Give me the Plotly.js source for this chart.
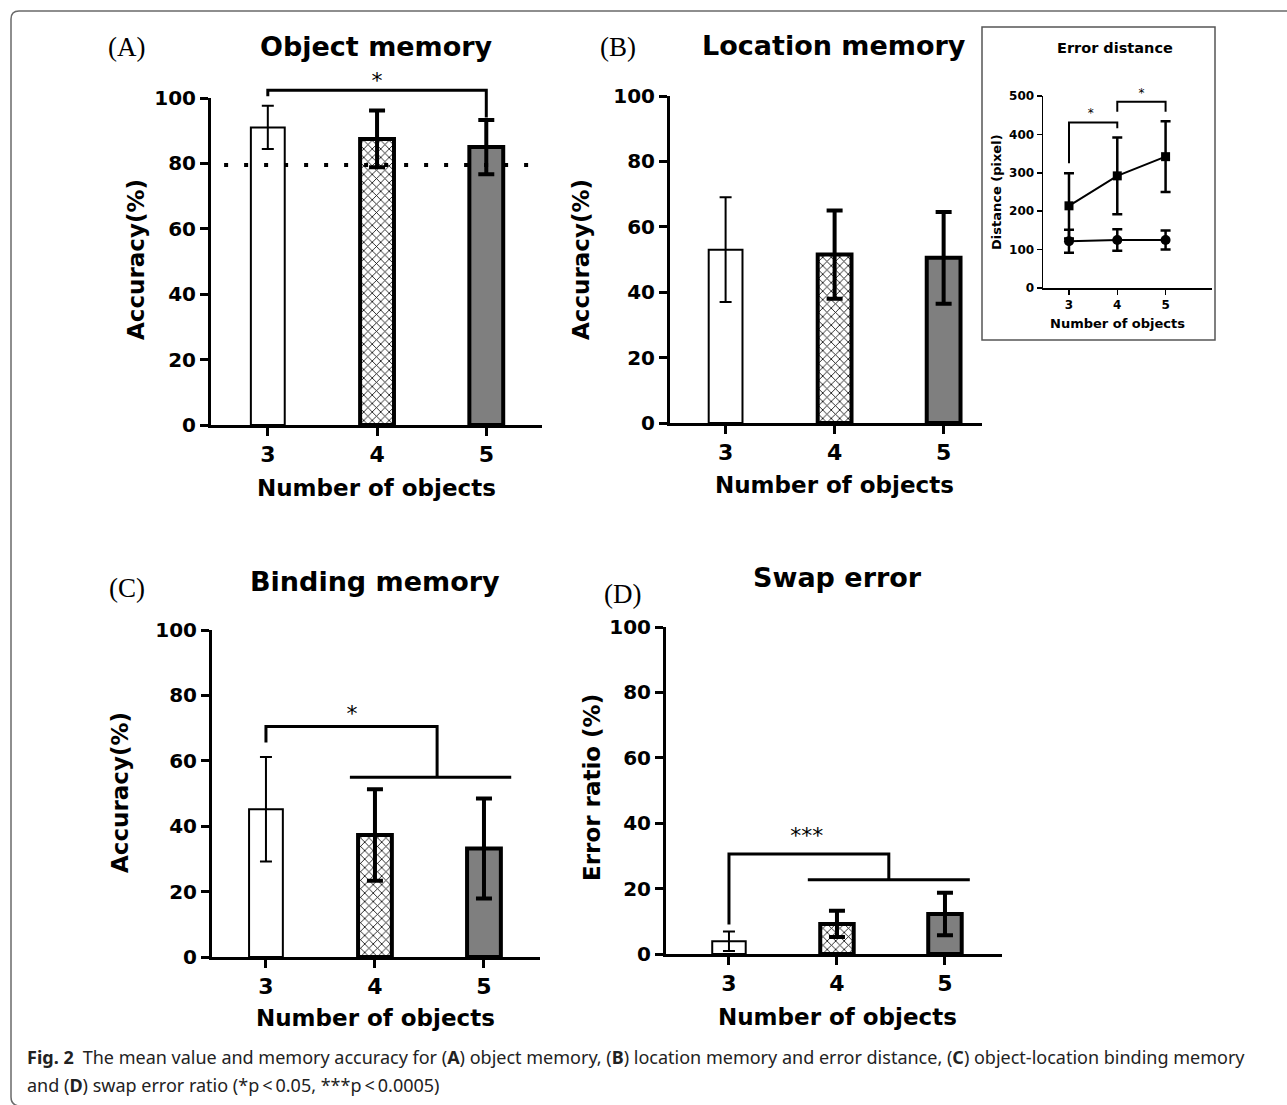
<!DOCTYPE html>
<html>
<head>
<meta charset="utf-8">
<script src="https://cdn.plot.ly/plotly-3.0.1.min.js"></script>
<style>html,body{margin:0;padding:0;background:#fff;}#chart{width:1287px;height:1105px;}</style>
</head>
<body>
<div id="chart"></div>
<script>
// ---------------- DATA ----------------
const categories = [3, 4, 5];
const tickLabels = ['3', '4', '5'];
const yTicks = [0, 20, 40, 60, 80, 100];
const yTickLabels = ['0', '20', '40', '60', '80', '100'];

const objectMean = [91, 87.5, 85];
const objectErr = [6.6, 8.7, 8.3];
const objectCriterion = 79.5;

const locationMean = [53, 51.5, 50.5];
const locationErr = [16, 13.5, 14];

const bindingMean = [45.2, 37.3, 33.2];
const bindingErr = [16, 14, 15.3];

const swapMean = [3.9, 9.2, 12.2];
const swapErr = [3, 4, 6.5];

const distTicks = [0, 100, 200, 300, 400, 500];
const distSquareMean = [214, 292, 342];
const distSquareErr = [85, 100, 92];
const distCircleMean = [122, 125, 125];
const distCircleErr = [30, 28, 25];

// significance brackets (x in category units, y in data units)
const sigA_x = [3, 3, 5, 5];
const sigA_y = [100.5, 102.4, 102.4, 94];
const starA = {x: [4], y: [104.8], t: ['*']};

const sigC_x = [3, 3, 4.57, 4.57, null, 3.77, 5.25];
const sigC_y = [65.6, 70.5, 70.5, 55, null, 55, 55];
const starC = {x: [3.79], y: [74], t: ['*']};

const sigD_x = [3, 3, 4.48, 4.48, null, 3.73, 5.23];
const sigD_y = [9, 30.6, 30.6, 22.7, null, 22.7, 22.7];
const starD = {x: [3.72], y: [35.5], t: ['***']};

const sigE1_x = [3, 3, 4, 4];
const sigE1_y = [325, 431, 431, 416];
const sigE2_x = [4, 4, 5, 5];
const sigE2_y = [459, 485, 485, 459];
const starE = {x: [3.45, 4.5], y: [452, 506], t: ['*', '*']};

// ---------------- LAYOUT HELPERS ----------------
const W = 1287, H = 1105;
const px = p => p / W;
const py = p => 1 - p / H;
const FONT = 'DejaVu Sans';
const black = '#000';

function xAxis(d, r, anchor, opts) {
  return Object.assign({
    domain: [px(d[0]), px(d[1])], range: r, anchor: anchor,
    showline: true, linewidth: 3, linecolor: black,
    ticks: 'outside', ticklen: 8, tickwidth: 3, tickcolor: black,
    tickmode: 'array', tickvals: categories, ticktext: tickLabels,
    tickfont: {family: FONT, size: 22, color: black, weight: 'bold'},
    showgrid: false, zeroline: false, fixedrange: true
  }, opts || {});
}
function yAxis(y0, y1, r, anchor, opts) {
  return Object.assign({
    domain: [py(y0), py(y1)], range: r, anchor: anchor,
    showline: true, linewidth: 3, linecolor: black,
    ticks: 'outside', ticklen: 8, tickwidth: 3, tickcolor: black,
    tickmode: 'array', tickvals: yTicks, ticktext: yTickLabels,
    tickfont: {family: FONT, size: 20, color: black, weight: 'bold'},
    showgrid: false, zeroline: false, fixedrange: true
  }, opts || {});
}
function hidden(base, domain, range) {
  return {domain: domain, range: range, visible: false, showgrid: false, zeroline: false, fixedrange: true, anchor: base};
}

// ---------------- TRACES ----------------
const traces = [];
const barStyles = [
  {fill: '#ffffff', lw: 2, pattern: {shape: ''}, et: 2, ew: 6},
  {fill: '#ffffff', lw: 4, pattern: {shape: 'x', fgcolor: '#000', bgcolor: '#fff', size: 6, solidity: 0.25, fillmode: 'replace'}, et: 4, ew: 8},
  {fill: '#7f7f7f', lw: 4, pattern: {shape: ''}, et: 4, ew: 8}
];
function addBars(means, errs, xa, ya) {
  for (let i = 0; i < categories.length; i++) {
    const s = barStyles[i];
    traces.push({
      type: 'bar', x: [categories[i]], y: [means[i]], width: 0.31,
      xaxis: xa, yaxis: ya, showlegend: false, hoverinfo: 'skip',
      marker: {color: s.fill, line: {color: black, width: s.lw}, pattern: s.pattern},
      error_y: {type: 'data', array: [errs[i]], visible: true, color: black, thickness: s.et, width: s.ew}
    });
  }
}
function addLine(x, y, xa, ya, w) {
  traces.push({type: 'scatter', mode: 'lines', x: x, y: y, xaxis: xa, yaxis: ya,
    line: {color: black, width: w}, showlegend: false, hoverinfo: 'skip', cliponaxis: false, connectgaps: false});
}
function addStars(s, xa, ya, size) {
  traces.push({type: 'scatter', mode: 'text', x: s.x, y: s.y, text: s.t, xaxis: xa, yaxis: ya,
    textposition: 'middle center', textfont: {family: FONT, size: size, color: black},
    showlegend: false, hoverinfo: 'skip', cliponaxis: false});
}

// A: object memory
addBars(objectMean, objectErr, 'x', 'y');
traces.push({type: 'scatter', mode: 'lines', x: [2.6, 5.5], y: [objectCriterion, objectCriterion],
  xaxis: 'x', yaxis: 'y', line: {color: black, width: 4, dash: '4px,16px'}, showlegend: false, hoverinfo: 'skip'});
addLine(sigA_x, sigA_y, 'x6', 'y6', 3);
addStars(starA, 'x6', 'y6', 22);
// B: location memory
addBars(locationMean, locationErr, 'x2', 'y2');
// C: binding memory
addBars(bindingMean, bindingErr, 'x3', 'y3');
addLine(sigC_x, sigC_y, 'x3', 'y3', 3);
addStars(starC, 'x3', 'y3', 22);
// D: swap error
addBars(swapMean, swapErr, 'x4', 'y4');
addLine(sigD_x, sigD_y, 'x4', 'y4', 3);
addStars(starD, 'x4', 'y4', 22);
// Inset: error distance
traces.push({type: 'scatter', mode: 'lines+markers', x: categories, y: distSquareMean, xaxis: 'x5', yaxis: 'y5',
  line: {color: black, width: 2}, marker: {symbol: 'square', size: 9, color: black},
  error_y: {type: 'data', array: distSquareErr, visible: true, color: black, thickness: 2.5, width: 5},
  showlegend: false, hoverinfo: 'skip', cliponaxis: false});
traces.push({type: 'scatter', mode: 'lines+markers', x: categories, y: distCircleMean, xaxis: 'x5', yaxis: 'y5',
  line: {color: black, width: 2}, marker: {symbol: 'circle', size: 10, color: black},
  error_y: {type: 'data', array: distCircleErr, visible: true, color: black, thickness: 2.5, width: 5},
  showlegend: false, hoverinfo: 'skip', cliponaxis: false});
addLine(sigE1_x, sigE1_y, 'x7', 'y7', 2);
addLine(sigE2_x, sigE2_y, 'x7', 'y7', 2);
addStars(starE, 'x7', 'y7', 12);

// ---------------- LAYOUT ----------------
const rA = [2.48, 5.51], rB = [2.49, 5.352], rC = [2.505, 5.514], rD = [2.417, 5.528], rE = [2.462, 5.961];
const layout = {
  width: W, height: H, margin: {l: 0, r: 0, t: 0, b: 0},
  paper_bgcolor: '#fff', plot_bgcolor: 'rgba(0,0,0,0)', showlegend: false, barmode: 'overlay',
  xaxis: xAxis([211, 542], rA, 'y'),
  yaxis: yAxis(425, 98, [0, 100], 'x'),
  xaxis2: xAxis([670, 982], rB, 'y2'),
  yaxis2: yAxis(423, 96, [0, 100], 'x2'),
  xaxis3: xAxis([212, 540], rC, 'y3'),
  yaxis3: yAxis(957, 630, [0, 100], 'x3'),
  xaxis4: xAxis([666, 1002], rD, 'y4'),
  yaxis4: yAxis(954, 627, [0, 100], 'x4'),
  xaxis5: xAxis([1043, 1212], rE, 'y5', {linewidth: 1.5, ticklen: 5, tickwidth: 1.5,
    tickfont: {family: FONT, size: 12, color: black, weight: 'bold'}}),
  yaxis5: yAxis(288, 96, [0, 500], 'x5', {linewidth: 1.5, ticklen: 5, tickwidth: 1.5,
    tickvals: distTicks, ticktext: distTicks.map(String),
    tickfont: {family: FONT, size: 12, color: black, weight: 'bold'}}),
  xaxis6: hidden('y6', [px(211), px(542)], rA),
  yaxis6: hidden('x6', [py(425), py(425 - 327 * 1.12)], [0, 112]),
  xaxis7: hidden('y7', [px(1043), px(1212)], rE),
  yaxis7: hidden('x7', [py(288), py(288 - 192 * 530 / 500)], [0, 530]),
  shapes: [
    {type: 'path', xref: 'paper', yref: 'paper', layer: 'below',
     path: `M ${px(1290)},${py(11)} L ${px(19)},${py(11)} Q ${px(11)},${py(11)} ${px(11)},${py(19)} L ${px(11)},${py(1097)} Q ${px(11)},${py(1105)} ${px(19)},${py(1106)}`,
     line: {color: '#6a6a6a', width: 1.5}},
    {type: 'rect', xref: 'paper', yref: 'paper', layer: 'below',
     x0: px(982), x1: px(1215), y0: py(340), y1: py(27),
     line: {color: '#555', width: 1.5}, fillcolor: '#fff'}
  ],
  annotations: []
};
function ann(text, x, y, size, opts) {
  layout.annotations.push(Object.assign({
    text: text, x: px(x), y: py(y), xref: 'paper', yref: 'paper', showarrow: false,
    xanchor: 'center', yanchor: 'middle',
    font: {family: FONT, size: size, color: black, weight: 'bold'}
  }, opts || {}));
}
const serif = {family: 'Liberation Serif', size: 27, color: black, weight: 'normal'};
// panel labels
ann('(A)', 127, 47, 27, {font: serif});
ann('(B)', 618, 47, 27, {font: serif});
ann('(C)', 127, 588, 27, {font: serif});
ann('(D)', 622, 594, 27, {font: serif});
// titles
ann('Object memory', 376, 47, 27);
ann('Location memory', 834, 46, 27);
ann('Binding memory', 375, 581, 27);
ann('Swap error', 837, 577, 27);
ann('Error distance', 1115, 48, 14.5);
// axis titles
ann('Number of objects', 376, 488, 23);
ann('Number of objects', 834, 485, 23);
ann('Number of objects', 375, 1018, 23);
ann('Number of objects', 837, 1017, 23);
ann('Number of objects', 1117, 323, 13);
ann('Accuracy(%)', 136, 260, 23, {textangle: -90});
ann('Accuracy(%)', 581, 260, 23, {textangle: -90});
ann('Accuracy(%)', 120, 793, 23, {textangle: -90});
ann('Error ratio (%)', 592, 788, 23, {textangle: -90});
ann('Distance (pixel)', 996, 192, 13, {textangle: -90});
// caption
const capFont = {family: 'Noto Sans', size: 18, color: '#222', weight: 'normal'};
ann('<b>Fig. 2</b>\u2002The mean value and memory accuracy for (<b>A</b>) object memory, (<b>B</b>) location memory and error distance, (<b>C</b>) object-location binding memory',
    25, 1057, 18, {xanchor: 'left', font: capFont});
ann('and (<b>D</b>) swap error ratio (*p\u2009&lt;\u20090.05, ***p\u2009&lt;\u20090.0005)',
    25, 1085, 18, {xanchor: 'left', font: capFont});

Plotly.newPlot('chart', traces, layout, {staticPlot: true, displayModeBar: false});
</script>
</body>
</html>
